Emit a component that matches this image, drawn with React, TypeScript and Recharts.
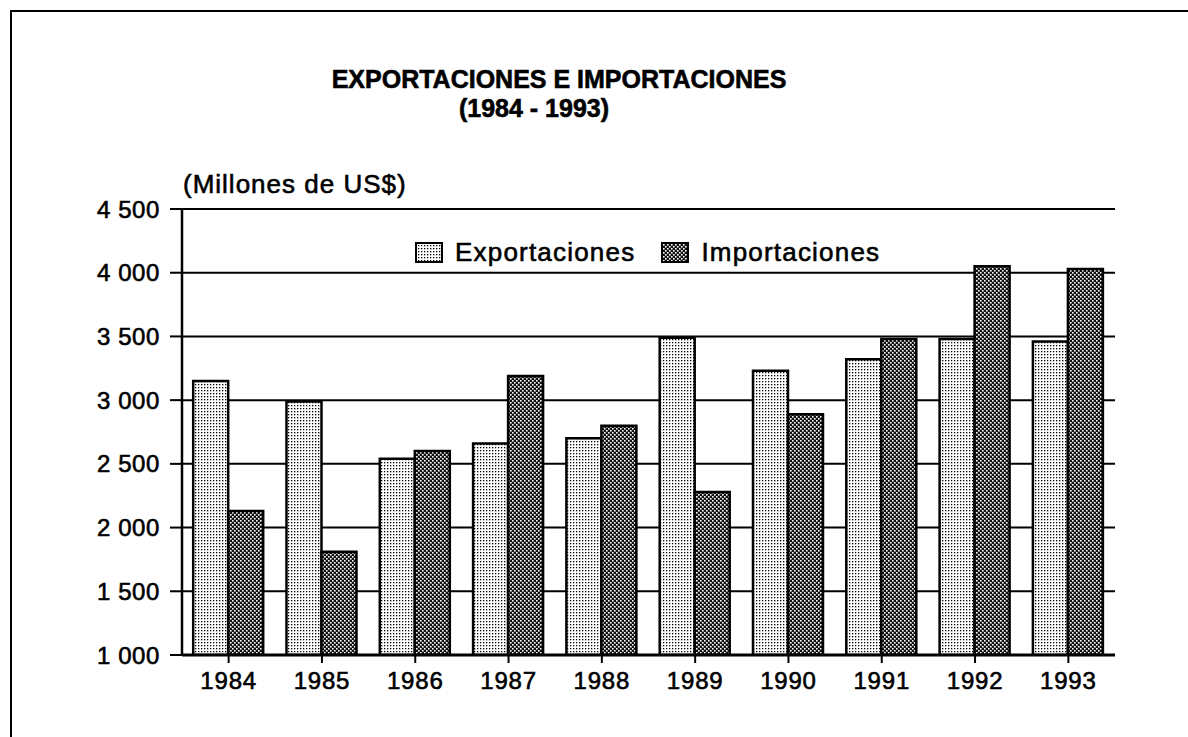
import { BarChart, Bar, XAxis, YAxis, CartesianGrid, Legend } from 'recharts';

const YEARS = ['1984', '1985', '1986', '1987', '1988', '1989', '1990', '1991', '1992', '1993'];
const EXPORTACIONES = [3150, 2990, 2540, 2660, 2700, 3490, 3230, 3320, 3480, 3460];
const IMPORTACIONES = [2130, 1810, 2600, 3190, 2800, 2280, 2890, 3480, 4050, 4030];
const Y_TICKS = [1000, 1500, 2000, 2500, 3000, 3500, 4000, 4500];

const SERIES = [
    { key: 'exportaciones', name: 'Exportaciones', fill: 'url(#patExp)' },
    { key: 'importaciones', name: 'Importaciones', fill: 'url(#patImp)' },
];

const data = YEARS.map((year, i) => ({
    year,
    exportaciones: EXPORTACIONES[i],
    importaciones: IMPORTACIONES[i],
}));

const FONT = '"Liberation Sans", Arial, Helvetica, sans-serif';

function fmtThousands(v: number) {
    const th = Math.floor(v / 1000);
    const rest = String(v % 1000).padStart(3, '0');
    return `${th} ${rest}`;
}

// scanned print looks heavier than plain regular weight
const heavy = { WebkitTextStroke: '0.6px #000' } as const;

function LegendContent() {
    return (
        <div style={{ display: 'flex', alignItems: 'center', fontFamily: FONT, fontSize: 26, letterSpacing: 1.2, color: '#000', ...heavy }}>
            {SERIES.map((s, i) => (
                <div key={s.key} style={{ display: 'flex', alignItems: 'center', marginLeft: i === 0 ? 0 : 26 }}>
                    <svg width={28} height={21} style={{ display: 'block' }}>
                        <rect x={1} y={1} width={26} height={19} fill={s.fill} stroke="#000" strokeWidth={2} />
                    </svg>
                    <span style={{ marginLeft: 12, lineHeight: '26px' }}>{s.name}</span>
                </div>
            ))}
        </div>
    );
}

export default function App() {
    return (
        <div style={{ position: 'absolute', left: 0, top: 0, width: 1188, height: 737, background: '#fff', overflow: 'hidden' }}>
            {/* scanned page frame */}
            <div style={{ position: 'absolute', left: 10, top: 10, width: 1178, height: 2, background: '#000' }} />
            <div style={{ position: 'absolute', left: 10, top: 10, width: 2, height: 727, background: '#000' }} />

            <div style={{ position: 'absolute', left: 259, top: 67, width: 600, textAlign: 'center', fontFamily: FONT, fontWeight: 700, fontSize: 25, lineHeight: '25px', color: '#000', ...heavy }}>
                EXPORTACIONES E IMPORTACIONES
            </div>
            <div style={{ position: 'absolute', left: 234, top: 96, width: 600, textAlign: 'center', fontFamily: FONT, fontWeight: 700, fontSize: 25, lineHeight: '25px', color: '#000', ...heavy }}>
                (1984 - 1993)
            </div>
            <div style={{ position: 'absolute', left: 183, top: 171, fontFamily: FONT, fontSize: 26, letterSpacing: 1, lineHeight: '26px', color: '#000', ...heavy }}>
                (Millones de US$)
            </div>

            <div style={{ position: 'absolute', left: 0, top: 0 }}>
                <BarChart
                    width={1188}
                    height={737}
                    data={data}
                    margin={{ top: 209, right: 73, bottom: 42, left: 102 }}
                    barCategoryGap="12%"
                    barGap={0}
                >
                    <defs>
                        <pattern id="patExp" width={3} height={3} patternUnits="userSpaceOnUse">
                            <rect width={3} height={3} fill="#fff" />
                            <rect x={0} y={0} width={1.3} height={1.3} fill="#000" />
                        </pattern>
                        <pattern id="patImp" width={4} height={4} patternUnits="userSpaceOnUse">
                            <rect width={4} height={4} fill="#111" />
                            <rect x={0} y={0} width={1.6} height={1.6} fill="#fff" />
                            <rect x={2} y={2} width={1.6} height={1.6} fill="#fff" />
                        </pattern>
                    </defs>
                    <CartesianGrid yAxisId="left" vertical={false} stroke="#000" strokeWidth={2} strokeOpacity={1} />
                    <XAxis
                        dataKey="year"
                        height={40}
                        axisLine={{ stroke: '#000', strokeWidth: 3 }}
                        tickLine={{ stroke: '#000', strokeWidth: 2 }}
                        tickSize={8}
                        tickMargin={9}
                        tick={{ fill: '#000', stroke: '#000', strokeWidth: 0.6, fontFamily: FONT, fontSize: 24, letterSpacing: 0.8 }}
                    />
                    <YAxis
                        yAxisId="left"
                        width={80}
                        domain={[1000, 4500]}
                        ticks={Y_TICKS}
                        interval={0}
                        allowDataOverflow
                        tickFormatter={fmtThousands}
                        axisLine={{ stroke: '#000', strokeWidth: 2.5 }}
                        tickLine={{ stroke: '#000', strokeWidth: 2 }}
                        tickSize={12}
                        tickMargin={10}
                        tick={{ fill: '#000', stroke: '#000', strokeWidth: 0.6, fontFamily: FONT, fontSize: 24, letterSpacing: 0.6 }}
                    />
                    <YAxis
                        yAxisId="right"
                        orientation="right"
                        width={0}
                        domain={[1000, 4500]}
                        ticks={Y_TICKS}
                        tick={false}
                        tickLine={false}
                        axisLine={{ stroke: '#000', strokeWidth: 2 }}
                    />
                    <Legend
                        layout="horizontal"
                        verticalAlign="middle"
                        align="center"
                        wrapperStyle={{ top: 239, left: 415, width: 'auto' }}
                        content={() => <LegendContent />}
                    />
                    {SERIES.map((s) => (
                        <Bar
                            key={s.key}
                            yAxisId="left"
                            dataKey={s.key}
                            name={s.name}
                            fill={s.fill}
                            stroke="#000"
                            strokeWidth={2.5}
                            isAnimationActive={false}
                        />
                    ))}
                </BarChart>
            </div>
        </div>
    );
}
